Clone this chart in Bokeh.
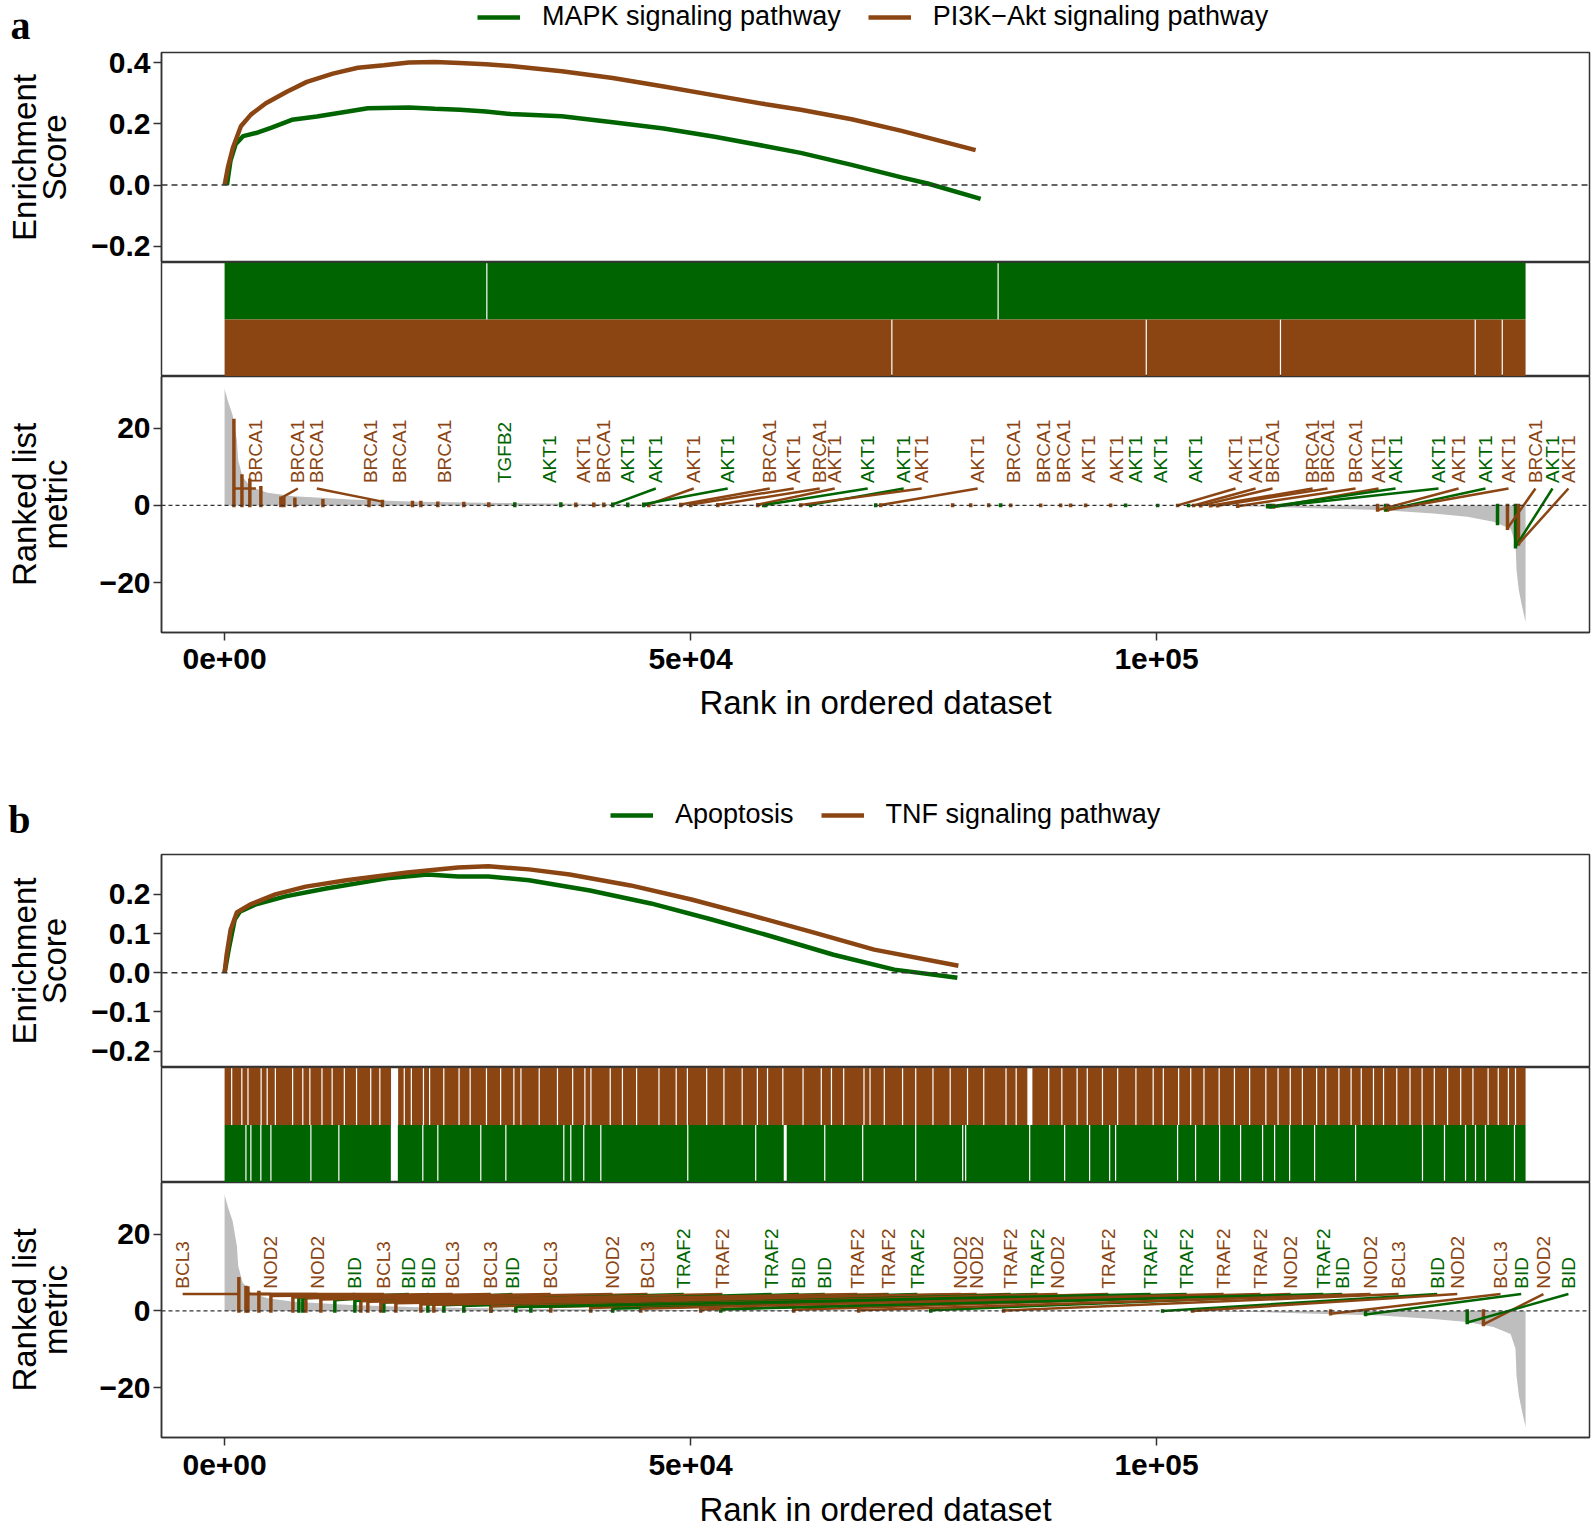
import numpy as np
from bokeh.plotting import figure
from bokeh.models import Range1d, Span, Legend, LegendItem, FixedTicker, ColumnDataSource
from bokeh.layouts import column
from bokeh.embed import file_html
from bokeh.resources import INLINE
from bokeh.core.properties import value

N_GENES = 139600
GREEN = "#006400"
BROWN = "#8B4513"
GRAY = "#BEBEBE"
FONT = "Liberation Sans"

# ---------------- ranked list metric (shared by both panels) ----------------
metric_rank = [0, 30, 390, 860, 1320, 1460, 1930, 2820, 4610, 7430, 13550, 20700, 27820,
               45730, 70000, 90000, 104000, 111880, 124040, 129730, 133340, 136160,
               137990, 138520, 138630, 138870, 139240, 139600]
metric_val = [30.5, 29.9, 26.8, 23.4, 16.9, 11.7, 7.4, 4.8, 3.3, 2.4, 1.55, 0.94, 0.68,
              0.26, 0.1, 0.03, 0.0, -0.36, -1.2, -2.1, -2.9, -4.2,
              -6.0, -9.8, -16.8, -21.9, -26.3, -30.2]

# ---------------- panel a ----------------
a_letter = "a"
a_names = ["MAPK signaling pathway", "PI3K\u2212Akt signaling pathway"]
a_mapk_rank = [250, 630, 1180, 2000, 3360, 4970, 7220, 9900, 13230, 15370, 19770, 22560, 25240,
               28030, 30710, 36180, 41650, 47120, 52590, 58070, 61820, 67290, 72650, 75440, 81130]
a_mapk_es = [0.0, 0.079, 0.133, 0.16, 0.17, 0.187, 0.213, 0.224, 0.24, 0.251, 0.253, 0.249, 0.246,
             0.24, 0.232, 0.225, 0.205, 0.185, 0.158, 0.127, 0.105, 0.066, 0.025, 0.005, -0.045]
a_pi3k_rank = [0, 350, 890, 1750, 2820, 4430, 6680, 8830, 11620, 14300, 17090, 19770, 22560,
               25240, 28030, 30710, 36180, 41650, 47120, 52590, 58070, 61820, 67290, 72650, 80590]
a_pi3k_es = [0.0, 0.057, 0.122, 0.192, 0.23, 0.267, 0.305, 0.337, 0.364, 0.383, 0.391, 0.40, 0.402,
             0.399, 0.395, 0.389, 0.372, 0.35, 0.322, 0.293, 0.264, 0.246, 0.215, 0.177, 0.114]
a_mapk_gaps = [28140, 83000]
a_pi3k_gaps = [71600, 98900, 113300, 134200, 137100]

a_lab_gene = ["BRCA1", "BRCA1", "BRCA1", "BRCA1", "BRCA1", "BRCA1", "TGFB2", "AKT1", "AKT1", "BRCA1",
              "AKT1", "AKT1", "AKT1", "AKT1", "BRCA1", "AKT1", "BRCA1", "AKT1", "AKT1", "AKT1",
              "AKT1", "AKT1", "BRCA1", "BRCA1", "BRCA1", "AKT1", "AKT1", "AKT1", "AKT1", "AKT1",
              "AKT1", "AKT1", "BRCA1", "BRCA1", "BRCA1", "BRCA1", "AKT1", "AKT1", "AKT1", "AKT1",
              "AKT1", "AKT1", "BRCA1", "AKT1", "AKT1"]
a_lab_set = ["P", "P", "P", "P", "P", "P", "M", "M", "P", "P",
             "M", "M", "P", "M", "P", "P", "P", "P", "M", "M",
             "P", "P", "P", "P", "P", "P", "P", "M", "M", "M",
             "P", "P", "P", "P", "P", "P", "P", "M", "M", "P",
             "M", "P", "P", "M", "P"]
a_lab_pos = [3360, 7860, 9900, 15650, 18760, 23630, 30070, 34900, 38540, 40690,
             43260, 46270, 50340, 53990, 58500, 61070, 63860, 65470, 69010, 72870,
             74800, 80810, 84670, 87890, 90030, 92720, 95720, 97760, 100440, 104190,
             108480, 110630, 112450, 116750, 118350, 121360, 123830, 125650, 130260, 132410,
             135300, 137770, 140660, 142490, 144200]
a_hit_rank = [1000, 6040, 16940, 15500, 20160, 22880, 31140, 36080, 37690, 40690,
              43260, 41650, 45520, 44980, 48950, 50020, 52920, 57210, 58070, 62890,
              61820, 70400, 84350, 87570, 89710, 92390, 95080, 96680, 100120, 103440,
              102260, 103980, 104730, 105800, 106550, 108700, 112560, 111920, 112240, 123720,
              124580, 124790, 137660, 138520, 138840]
a_hit_metric = [22.0, 1.9, 1.0, 1.1, 0.8, 0.6, 0.4, 0.35, 0.3, 0.3,
                0.3, 0.3, 0.3, 0.3, 0.25, 0.25, 0.2, 0.2, 0.2, 0.15,
                0.15, 0.1, 0.08, 0.07, 0.06, 0.05, 0.04, 0.03, 0.02, 0.0,
                0.02, 0.0, -0.05, -0.1, -0.1, -0.2, -0.4, -0.35, -0.4, -1.2,
                -1.2, -1.2, -5.9, -10.7, -10.0]
a_extra_set = ["P"] * 14 + ["M"] * 4
a_extra_rank = [1860, 2710, 3890, 6360, 7540, 10550, 21060, 25670, 28350, 39620, 78120, 80060, 81990,
                90780, 57850, 69870, 83270, 136590]
a_extra_metric = [7.6, 6.5, 4.6, 1.8, 1.6, 1.2, 0.8, 0.5, 0.4, 0.3, 0.1, 0.1, 0.1,
                  0.05, 0.2, 0.1, 0.1, -4.7]

# ---------------- panel b ----------------
b_letter = "b"
b_names = ["Apoptosis", "TNF signaling pathway"]
b_apo_rank = [0, 440, 1090, 1630, 3270, 6530, 10890, 17420, 21780, 25050, 28310, 32670, 39200,
              45740, 52270, 58810, 65340, 71870, 78630]
b_apo_es = [0.0, 0.059, 0.136, 0.156, 0.174, 0.195, 0.215, 0.241, 0.251, 0.246, 0.246, 0.236, 0.21,
            0.177, 0.136, 0.092, 0.046, 0.008, -0.013]
b_tnf_rank = [0, 220, 650, 1310, 2720, 5450, 8710, 13070, 19600, 25050, 28310, 32670, 37030,
              43560, 50090, 56630, 63160, 69700, 78740]
b_tnf_es = [0.0, 0.046, 0.11, 0.154, 0.174, 0.20, 0.22, 0.236, 0.256, 0.269, 0.272, 0.264, 0.251,
            0.223, 0.187, 0.146, 0.103, 0.059, 0.018]
b_tnf_gaps = [760, 1850, 2510, 3920, 4570, 5450, 7300, 8390, 9150, 10450, 11540, 12850, 14160,
              15680, 16660, 19280, 20040, 21340, 22000, 23520, 25160, 26350, 28100, 29620, 31040,
              31800, 33760, 35720, 37350, 38660, 39310, 41380, 42690, 44210, 46610, 48460, 49660,
              51730, 53580, 55540, 57170, 58260, 59900, 62070, 64030, 65120, 66430, 68610, 69260,
              70790, 72750, 74160, 76010, 77860, 79720, 81460, 83850, 84940, 88430, 89840, 91480,
              92570, 94200, 95830, 97790, 99640, 100730, 102370, 103670, 105090, 106720, 108360,
              109990, 111730, 113040, 114350, 115650, 117180, 118160, 119570, 120880, 121970,
              123280, 124360, 125780, 127200, 128500, 129810, 131230, 132640, 133950, 135580,
              136670, 137760, 138520]
b_tnf_wide = [(17860, 18620), (86140, 86680)]
b_apo_gaps = [2290, 2820, 3890, 4970, 9260, 12260, 21270, 22880, 27490, 30180, 36400, 37150,
              38540, 40370, 49700, 56990, 64400, 68470, 74160, 79200, 79520, 86390, 90140, 92820,
              94970, 95610, 102260, 104190, 106770, 109020, 111380, 112670, 114280, 116960,
              121360, 128540, 130900, 133160, 134230, 135300, 138410]
b_apo_wide = [(17840, 18590), (60000, 60320)]

b_lab_gene = ["BCL3", "NOD2", "NOD2", "BID", "BCL3", "BID", "BID", "BCL3", "BCL3", "BID",
              "BCL3", "NOD2", "BCL3", "TRAF2", "TRAF2", "TRAF2", "BID", "BID", "TRAF2", "TRAF2",
              "TRAF2", "NOD2", "NOD2", "TRAF2", "TRAF2", "NOD2", "TRAF2", "TRAF2", "TRAF2", "TRAF2",
              "TRAF2", "NOD2", "TRAF2", "BID", "NOD2", "BCL3", "BID", "NOD2", "BCL3", "BID",
              "NOD2", "BID"]
b_lab_set = ["T", "T", "T", "A", "T", "A", "A", "T", "T", "A",
             "T", "T", "T", "A", "T", "A", "A", "A", "T", "T",
             "A", "T", "T", "T", "A", "T", "T", "A", "A", "T",
             "T", "T", "A", "A", "T", "T", "A", "T", "T", "A",
             "T", "A"]
b_lab_pos = [-4500, 4970, 9980, 13980, 17090, 19770, 21920, 24460, 28570, 30890,
             35000, 41620, 45380, 49270, 53420, 58710, 61610, 64400, 67900, 71260,
             74340, 78980, 80700, 84350, 87240, 89390, 94830, 99370, 103230, 107200,
             111170, 114390, 117890, 119930, 122970, 125970, 130120, 132270, 136910, 139130,
             141520, 144200]
b_hit_rank = [1530, 2290, 2500, 7970, 3680, 8400, 11830, 4970, 7330, 13980,
              8720, 10330, 14620, 17090, 15370, 21810, 23530, 25670, 16770, 18380,
              28570, 21060, 22450, 28570, 31250, 35000, 39290, 32860, 41650, 44660,
              51090, 61070, 53240, 75770, 68040, 83600, 100650, 103870, 118680, 122430,
              135080, 133340]
b_hit_metric = [8.4, 6.1, 6.0, 3.4, 4.8, 3.3, 2.8, 3.9, 3.5, 2.6,
                3.3, 3.0, 2.5, 2.2, 2.4, 1.7, 1.5, 1.3, 2.2, 2.0,
                1.2, 1.7, 1.6, 1.2, 1.0, 1.0, 0.8, 1.0, 0.6, 0.6,
                0.4, 0.3, 0.4, 0.2, 0.2, 0.1, 0.0, 0.0, -0.7, -0.9,
                -3.5, -3.0]

# ---------------- layout constants ----------------
W = 1592
ML, MR = 161, 3
XR = (-6770, 146460)
LINE_END_Y = 4.4
LABEL_Y = 5.8
HDR_BASE = 100.0   # header y-range offset (keeps the key's source lines out of view)


def base_fig(h, top=0, bottom=0, yr=(0, 1), xaxis=False, yaxis=True):
    p = figure(width=W, height=h, x_range=Range1d(*XR), y_range=Range1d(*yr),
               output_backend="svg", toolbar_location=None, title=None,
               x_axis_location="below" if xaxis else None,
               y_axis_location="left" if yaxis else None,
               min_border_left=ML, min_border_right=MR,
               min_border_top=top, min_border_bottom=bottom)
    p.grid.visible = False
    p.outline_line_color = "#333333"
    p.outline_line_width = 1.5
    p.background_fill_color = "white"
    p.border_fill_color = "white"
    return p


def style_axis(ax):
    ax.axis_line_color = "#333333"
    ax.axis_line_width = 1.5
    ax.major_tick_line_color = "#333333"
    ax.major_tick_line_width = 1.5
    ax.major_tick_out = 8
    ax.major_tick_in = 0
    ax.minor_tick_line_color = None
    ax.major_label_text_font = FONT
    ax.major_label_text_font_style = "bold"
    ax.major_label_text_font_size = "30px"
    ax.major_label_text_color = "black"
    ax.major_label_standoff = 3
    ax.axis_label_text_font = FONT
    ax.axis_label_text_font_style = "normal"
    ax.axis_label_text_font_size = "33px"
    ax.axis_label_text_color = "black"
    ax.axis_label_text_line_height = 0.82


def runs(gaps, wide, w=130):
    cuts = sorted([(c - w / 2, c + w / 2) for c in gaps] + list(wide))
    left, right, cur = [], [], 0
    for a, b in cuts:
        left.append(cur)
        right.append(a)
        cur = b
    left.append(cur)
    right.append(N_GENES)
    return left, right


def header_fig(h, names, series, leg_xy, letter, letter_y):
    # strip above each panel: panel letter (as the strip's only tick label) and the key
    p = figure(width=W, height=h, x_range=Range1d(*XR), y_range=Range1d(HDR_BASE, HDR_BASE + h),
               output_backend="svg", toolbar_location=None, title=None,
               x_axis_location=None, y_axis_location="left",
               min_border_left=ML, min_border_right=MR, min_border_top=0, min_border_bottom=0)
    p.grid.visible = False
    p.outline_line_color = None
    ax = p.yaxis[0]
    ax.ticker = FixedTicker(ticks=[HDR_BASE + letter_y])
    ax.major_label_overrides = {HDR_BASE + letter_y: letter}
    ax.axis_line_color = None
    ax.major_tick_line_color = None
    ax.minor_tick_line_color = None
    ax.major_tick_out = 0
    ax.major_label_standoff = 131
    ax.major_label_text_font = "Liberation Serif"
    ax.major_label_text_font_style = "bold"
    ax.major_label_text_font_size = "40px"
    ax.major_label_text_color = "black"
    rends = [p.line(xr, yv, line_color=c, line_width=4.5) for (xr, yv, c) in series]
    leg = Legend(items=[LegendItem(label=n, renderers=[r]) for n, r in zip(names, rends)],
                 orientation="horizontal", location=leg_xy,
                 label_text_font=FONT, label_text_font_size="27px", label_text_color="black",
                 glyph_width=43, glyph_height=30, label_height=30,
                 label_standoff=22, spacing=27,
                 padding=0, margin=0, border_line_alpha=0, background_fill_alpha=0)
    p.add_layout(leg)
    return p


def es_fig(h, top, yr, ticks, overrides, series):
    p = base_fig(h, top=top, yr=yr)
    style_axis(p.yaxis[0])
    p.yaxis.ticker = FixedTicker(ticks=ticks)
    p.yaxis.major_label_overrides = overrides
    p.yaxis.axis_label = "Enrichment\nScore"
    p.yaxis.axis_label_standoff = 15
    p.add_layout(Span(location=0, dimension="width", line_color="#333333",
                      line_dash="6 4", line_width=1.5))
    for (xr, yv, col) in series:
        p.line(xr, yv, line_color=col, line_width=4.5)
    return p


def bar_fig(h, bands):
    p = base_fig(h, yr=(0, 1), yaxis=False)
    for (gaps, wide, y0, y1, col) in bands:
        l, r = runs(gaps, wide)
        p.quad(left=l, right=r, bottom=y0, top=y1, fill_color=col, line_color=None)
    return p


def metric_fig(h, bottom, genes, sets, pos, hits, mets, ex_sets, ex_rank, ex_met, cmap,
               lab_standoff, title_standoff):
    p = base_fig(h, bottom=bottom, yr=(-32.9, 33.4), xaxis=True)
    for ax in (p.xaxis[0], p.yaxis[0]):
        style_axis(ax)
    p.yaxis.ticker = FixedTicker(ticks=[-20, 0, 20])
    p.yaxis.major_label_overrides = {-20: "\u221220", 0: "0", 20: "20"}
    p.yaxis.axis_label = "Ranked list\nmetric"
    p.yaxis.axis_label_standoff = 23
    p.xaxis.ticker = FixedTicker(ticks=[0, 50000, 100000])
    p.xaxis.major_label_overrides = {0: "0e+00", 50000: "5e+04", 100000: "1e+05"}
    p.xaxis.axis_label = "Rank in ordered dataset"
    p.xaxis.major_label_standoff = lab_standoff
    p.xaxis.axis_label_standoff = title_standoff
    p.varea(x=metric_rank, y1=0, y2=metric_val, fill_color=GRAY)
    p.add_layout(Span(location=0, dimension="width", line_color="#333333",
                      line_dash="4 3", line_width=1.2))
    # hit markers
    hx = list(hits) + list(ex_rank)
    hy = list(mets) + list(ex_met)
    hc = [cmap[s] for s in list(sets) + list(ex_sets)]
    p.segment(x0=hx, y0=[0] * len(hx), x1=hx, y1=hy, line_color=hc,
              line_width=3.5, line_cap="square")
    # leader lines (only when the label is moved away from its hit)
    sx0, sy0, sx1, sy1, sc = [], [], [], [], []
    for s, lp, hr, m in zip(sets, pos, hits, mets):
        if abs(lp - hr) > 1600:
            sx0.append(hr)
            sy0.append(min(m, LINE_END_Y))
            sx1.append(lp)
            sy1.append(LINE_END_Y)
            sc.append(cmap[s])
    p.segment(x0=sx0, y0=sy0, x1=sx1, y1=sy1, line_color=sc, line_width=2.5)
    src = ColumnDataSource(dict(x=pos, y=[LABEL_Y] * len(pos), text=genes,
                                color=[cmap[s] for s in sets]))
    p.text(x="x", y="y", text="text", source=src, angle=np.pi / 2, text_color="color",
           text_font=value(FONT), text_font_size="19px", text_align="left",
           text_baseline="middle")
    return p


a_series = [(a_mapk_rank, a_mapk_es, GREEN), (a_pi3k_rank, a_pi3k_es, BROWN)]
b_series = [(b_apo_rank, b_apo_es, GREEN), (b_tnf_rank, b_tnf_es, BROWN)]

# ---------------- panel a ----------------
ha = header_fig(40, a_names, a_series, (316, 8), a_letter, 19.5)
pa1 = es_fig(222, 12, (-0.253, 0.433), [-0.2, 0, 0.2, 0.4],
             {-0.2: "\u22120.2", 0: "0.0", 0.2: "0.2", 0.4: "0.4"}, a_series)
pa2 = bar_fig(114, [(a_mapk_gaps, [], 0.5, 1.0, GREEN), (a_pi3k_gaps, [], 0.0, 0.5, BROWN)])
pa3 = metric_fig(364, 108, a_lab_gene, a_lab_set, a_lab_pos, a_hit_rank, a_hit_metric,
                 a_extra_set, a_extra_rank, a_extra_metric, {"M": GREEN, "P": BROWN}, 8, 12)

# ---------------- panel b ----------------
hb = header_fig(102, b_names, b_series, (449, 12), b_letter, 23)
pb1 = es_fig(225, 12, (-0.242, 0.302), [-0.2, -0.1, 0, 0.1, 0.2],
             {-0.2: "\u22120.2", -0.1: "\u22120.1", 0: "0.0", 0.1: "0.1", 0.2: "0.2"}, b_series)
pb2 = bar_fig(115, [(b_tnf_gaps, b_tnf_wide, 0.5, 1.0, BROWN), (b_apo_gaps, b_apo_wide, 0.0, 0.5, GREEN)])
pb3 = metric_fig(350, 95, b_lab_gene, b_lab_set, b_lab_pos, b_hit_rank, b_hit_metric,
                 [], [], [], {"A": GREEN, "T": BROWN}, 9, 13)

layout = column(ha, pa1, pa2, pa3, hb, pb1, pb2, pb3, spacing=0)
open("out.html", "w").write(file_html(layout, INLINE))
